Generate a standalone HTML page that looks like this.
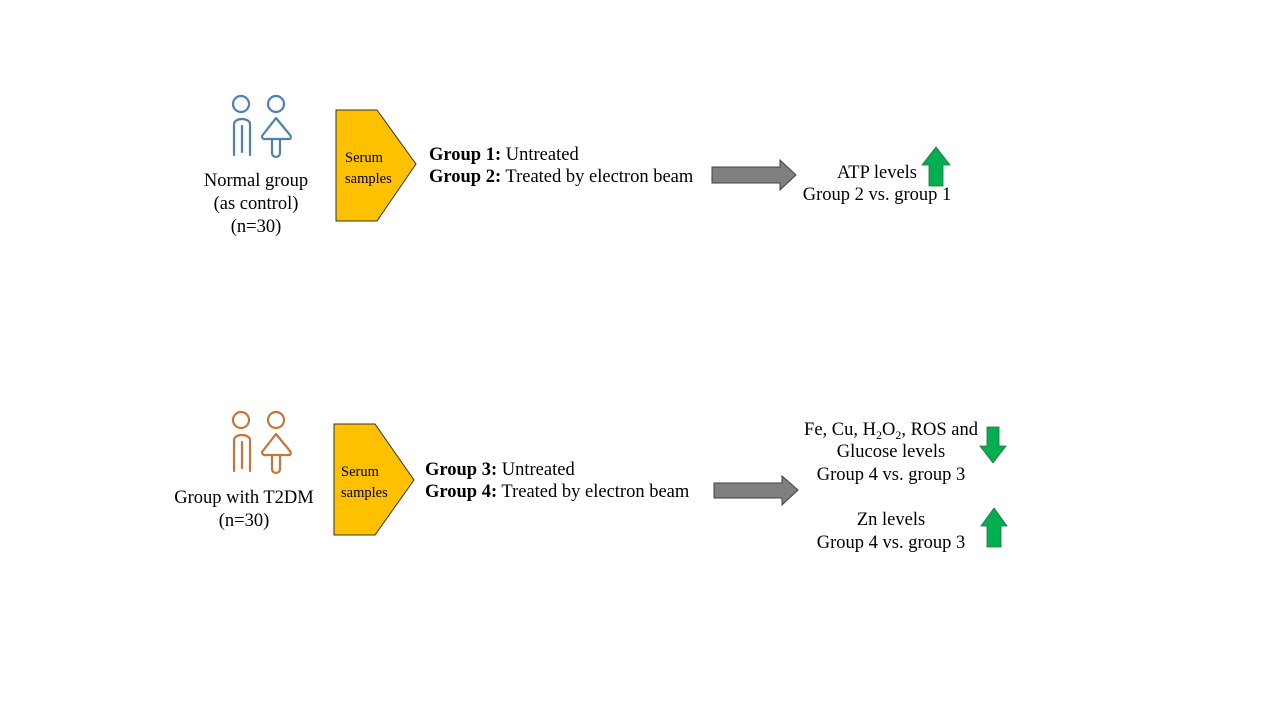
<!DOCTYPE html>
<html><head><style>body{margin:0;background:#fff}svg{display:block}text{font-family:"Liberation Serif",serif;fill:#000}</style></head><body>
<svg width="1280" height="720" viewBox="0 0 1280 720">
<defs>
<g id="ppl" fill="none" stroke-width="2.2" stroke-linecap="round" stroke-linejoin="round">
<circle cx="241" cy="104" r="8"/>
<path d="M234 155 V124 a8 5 0 0 1 16 0 V155 M242 126 V152"/>
<circle cx="276" cy="104" r="8"/>
<path d="M276 118 L262 136 a3 3 0 0 0 4 3 L290 139 a3 3 0 0 0 0 -4 Z"/>
<path d="M272 139 V153 a4 4 0 0 0 8 0 V139"/>
</g>
</defs>
<use href="#ppl" stroke="#4f81b0"/>
<use href="#ppl" stroke="#c8743a" transform="translate(0,316)"/>
<g font-size="18.5" text-anchor="middle">
<text x="256" y="186">Normal group</text>
<text x="256" y="209">(as control)</text>
<text x="256" y="232">(n=30)</text>
<text x="244" y="503">Group with  T2DM</text>
<text x="244" y="526">(n=30)</text>
</g>
<polygon points="336,110 377,110 416,164 377,221 336,221" fill="#ffc000" stroke="#333" stroke-width="1"/>
<polygon points="334,424 375,424 414,480 375,535 334,535" fill="#ffc000" stroke="#333" stroke-width="1"/>
<g font-size="14.5">
<text x="345" y="162">Serum</text><text x="345" y="183">samples</text>
<text x="341" y="476">Serum</text><text x="341" y="497">samples</text>
</g>
<g font-size="18.5">
<text x="429" y="160"><tspan font-weight="bold">Group 1:</tspan> Untreated</text>
<text x="429" y="182"><tspan font-weight="bold">Group 2:</tspan> Treated by electron beam</text>
<text x="425" y="475"><tspan font-weight="bold">Group 3:</tspan> Untreated</text>
<text x="425" y="497"><tspan font-weight="bold">Group 4:</tspan> Treated by electron beam</text>
</g>
<g fill="#7f7f7f" stroke="#404040" stroke-width="1">
<polygon points="712,167 780,167 780,160 796,175 780,190 780,183 712,183"/>
<polygon points="714,483 782,483 782,476 798,490 782,505 782,498 714,498"/>
</g>
<g fill="#00b050" stroke="#2a6a3a" stroke-width="0.8">
<polygon points="936,147 950,165 943,165 943,186 929,186 929,165 922,165"/>
<polygon points="993,463 1006,446 999,446 999,427 987,427 987,446 980,446"/>
<polygon points="994,508 1007,526 1001,526 1001,547 987,547 987,526 981,526"/>
</g>
<g font-size="18.5" text-anchor="middle">
<text x="877" y="178">ATP levels</text>
<text x="877" y="200">Group 2 vs. group 1</text>
<text x="891" y="435">Fe, Cu, H<tspan font-size="12" dy="4">2</tspan><tspan dy="-4">O</tspan><tspan font-size="12" dy="4">2</tspan><tspan dy="-4">, ROS and</tspan></text>
<text x="891" y="457">Glucose levels</text>
<text x="891" y="480">Group 4 vs. group 3</text>
<text x="891" y="525">Zn levels</text>
<text x="891" y="548">Group 4 vs. group 3</text>
</g>
</svg>
</body></html>
